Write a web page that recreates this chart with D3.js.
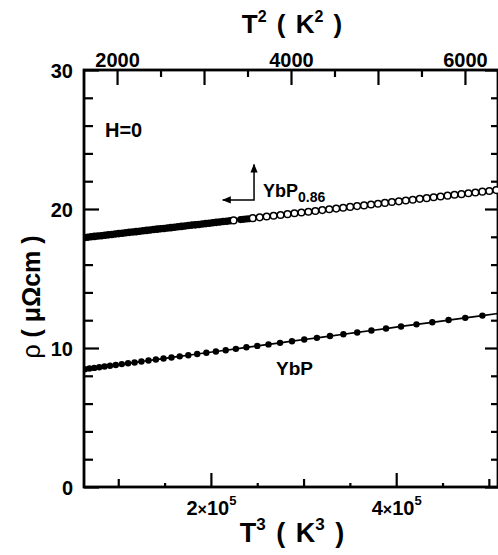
<!DOCTYPE html>
<html><head><meta charset="utf-8">
<script src="https://cdn.jsdelivr.net/npm/d3@7"></script>
<style>
body{margin:0;background:#fff}
svg{display:block}
text{font-family:"Liberation Sans",Arial,Helvetica,sans-serif;font-weight:bold;fill:#000}
</style>
</head><body>
<svg id="c" width="498" height="555"></svg>
<script>
// ---- data ----
// YbP : rho vs T (plotted against T^3, bottom axis)
const ybpT = [40,41,42,43,44,45,46,47,48,49,50,51,52,53,54,55,56,57,58,59,60,61,62,63,64,65,66,67,68,69,70,71,72,73,74,75,76,77,78,79,80];
const ybpRho = [8.48,8.52,8.57,8.62,8.67,8.72,8.78,8.84,8.90,8.96,9.03,9.10,9.17,9.24,9.32,9.40,9.48,9.57,9.66,9.75,9.84,9.94,10.05,10.15,10.26,10.37,10.49,10.61,10.73,10.86,10.99,11.12,11.26,11.40,11.55,11.70,11.85,12.01,12.17,12.33,12.50];

// YbP0.86 : rho vs T^2 (top axis)
const denseT2 = [1620,1660,1700,1740,1780,1820,1860,1900,1940,1980,2020,2060,2100,2140,2180,2220,2260,2300,2340,2380,2420,2460,2500,2540,2580,2620,2660,2700,2740,2780,2820,2860,2900,2940,2980,3020,3060,3100,3140,3180,3220,3260,3300];
const denseRho = [17.94,17.97,18.00,18.03,18.06,18.08,18.11,18.14,18.17,18.20,18.23,18.26,18.29,18.32,18.34,18.37,18.40,18.43,18.46,18.49,18.52,18.55,18.58,18.60,18.63,18.66,18.69,18.72,18.75,18.78,18.81,18.84,18.86,18.89,18.92,18.95,18.98,19.01,19.04,19.07,19.10,19.12,19.15];
const singleT2 = [3340];
const singleRho = [19.18];
const blackT2 = [3420,3450,3480,3510];
const blackRho = [19.24,19.26,19.28,19.30];
const openT2 = [3560,3640,3720,3800,3880,3960,4040,4120,4200,4280,4360,4440,4520,4600,4680,4760,4840,4920,5000,5080,5160,5240,5320,5400,5480,5560,5640,5720,5800,5880,5960,6040,6120,6200,6280,6360];
const openRho = [19.34,19.40,19.46,19.51,19.57,19.63,19.69,19.75,19.80,19.86,19.92,19.98,20.03,20.09,20.15,20.21,20.26,20.32,20.38,20.44,20.50,20.55,20.61,20.67,20.73,20.78,20.84,20.90,20.96,21.02,21.07,21.13,21.19,21.25,21.30,21.36];

// ticks
const yMajor = [0,10,20,30];
const yMinor = [2,4,6,8,12,14,16,18,22,24,26,28];
const topMajor = [2000,3000,4000,5000,6000];
const topMinor = [2500,3500,4500,5500];
const topLabels = ["2000","","4000","","6000"];
const botLabeled = [200000,400000];
const botLabelMant = ["2","4"];
const botMid = [100000,300000,500000];
const botMinor = [150000,250000,350000,450000];

// ---- layout ----
const L=84, R=498, T=70, B=487;
const svg = d3.select("#c");
const xB = d3.scaleLinear().domain([63030,509880]).range([L,R]);
const xT = d3.scaleLinear().domain([1620,6380]).range([L,R]);
const y = d3.scaleLinear().domain([0,30]).range([B,T]);

svg.append("defs").append("clipPath").attr("id","pc")
  .append("rect").attr("x",L).attr("y",T).attr("width",R-L).attr("height",B-T);

function styleAxis(g){
  g.select(".domain").remove();
  g.selectAll(".tick line").attr("stroke","#000").attr("stroke-width",2.2);
}
// left
svg.append("g").attr("transform",`translate(${L},0)`)
  .call(d3.axisLeft(y).tickValues(yMinor).tickSize(-9).tickFormat("")).call(styleAxis);
const gl = svg.append("g").attr("transform",`translate(${L},0)`)
  .call(d3.axisLeft(y).tickValues(yMajor).tickSize(-15).tickPadding(11).tickFormat(d3.format("d"))).call(styleAxis);
gl.selectAll(".tick text").attr("font-size",20).attr("dy","0.36em");
// right
svg.append("g").attr("transform",`translate(${R},0)`)
  .call(d3.axisRight(y).tickValues(yMinor).tickSize(-7).tickFormat("")).call(styleAxis);
svg.append("g").attr("transform",`translate(${R},0)`)
  .call(d3.axisRight(y).tickValues(yMajor).tickSize(-13).tickFormat("")).call(styleAxis);
// top
svg.append("g").attr("transform",`translate(0,${T})`)
  .call(d3.axisTop(xT).tickValues(topMinor).tickSize(-7).tickFormat("")).call(styleAxis);
const gt = svg.append("g").attr("transform",`translate(0,${T})`)
  .call(d3.axisTop(xT).tickValues(topMajor).tickSize(-15).tickPadding(3).tickFormat((d,i)=>topLabels[i])).call(styleAxis);
gt.selectAll(".tick text").attr("font-size",20);
// bottom
svg.append("g").attr("transform",`translate(0,${B})`)
  .call(d3.axisBottom(xB).tickValues(botMinor).tickSize(-4).tickFormat("")).call(styleAxis);
svg.append("g").attr("transform",`translate(0,${B})`)
  .call(d3.axisBottom(xB).tickValues(botMid).tickSize(-8).tickFormat("")).call(styleAxis);
const gb = svg.append("g").attr("transform",`translate(0,${B})`)
  .call(d3.axisBottom(xB).tickValues(botLabeled).tickSize(-14).tickFormat("")).call(styleAxis);
gb.selectAll(".tick text").each(function(d,i){
  const t = d3.select(this).attr("y",28).attr("dy",null).attr("font-size",20).attr("text-anchor","middle");
  t.append("tspan").text(botLabelMant[i]);
  t.append("tspan").attr("font-size",16).text("×");
  t.append("tspan").text("10");
  t.append("tspan").attr("font-size",13).attr("dy",-10).text("5");
});

// frame
svg.append("rect").attr("x",L).attr("y",T).attr("width",R-L).attr("height",B-T)
  .attr("fill","none").attr("stroke","#000").attr("stroke-width",2.8);

// ---- data marks ----
const plot = svg.append("g").attr("clip-path","url(#pc)");
const ybp = ybpT.map((t,i)=>({x:t*t*t, v:ybpRho[i]}));
plot.append("path").datum(ybp)
  .attr("d", d3.line().x(d=>xB(d.x)).y(d=>y(d.v)))
  .attr("fill","none").attr("stroke","#000").attr("stroke-width",1.7);
plot.selectAll("circle.ybp").data(ybp).join("circle").attr("class","ybp")
  .attr("cx",d=>xB(d.x)).attr("cy",d=>y(d.v)).attr("r",3.2).attr("fill","#000");

const all086 = [];
denseT2.forEach((t,i)=>all086.push({x:t,v:denseRho[i]}));
singleT2.forEach((t,i)=>all086.push({x:t,v:singleRho[i]}));
blackT2.forEach((t,i)=>all086.push({x:t,v:blackRho[i]}));
openT2.forEach((t,i)=>all086.push({x:t,v:openRho[i]}));
plot.append("path").datum(all086)
  .attr("d", d3.line().x(d=>xT(d.x)).y(d=>y(d.v)))
  .attr("fill","none").attr("stroke","#000").attr("stroke-width",1.4);
plot.selectAll("circle.dense").data(denseT2.map((t,i)=>({x:t,v:denseRho[i]}))).join("circle").attr("class","dense")
  .attr("cx",d=>xT(d.x)).attr("cy",d=>y(d.v)).attr("r",3.8).attr("fill","#000");
plot.selectAll("circle.black").data(blackT2.map((t,i)=>({x:t,v:blackRho[i]}))).join("circle").attr("class","black")
  .attr("cx",d=>xT(d.x)).attr("cy",d=>y(d.v)).attr("r",3.6).attr("fill","#000");
const openPts = singleT2.map((t,i)=>({x:t,v:singleRho[i]})).concat(openT2.map((t,i)=>({x:t,v:openRho[i]})));
plot.selectAll("circle.open").data(openPts).join("circle").attr("class","open")
  .attr("cx",d=>xT(d.x)).attr("cy",d=>y(d.v)).attr("r",3.3).attr("fill","#fff")
  .attr("stroke","#000").attr("stroke-width",1.5);

// ---- annotations ----
const defs = svg.select("defs");
defs.append("marker").attr("id","ah").attr("viewBox","0 0 10 10").attr("refX",9).attr("refY",5)
  .attr("markerWidth",6).attr("markerHeight",6).attr("orient","auto-start-reverse")
  .append("path").attr("d","M0,1 L10,5 L0,9 Z").attr("fill","#000");
const cx = xT(3575), cy = y(20.65);
svg.append("path")
  .attr("d",`M${xT(3215)},${cy} L${cx},${cy} L${cx},${y(23.2)}`)
  .attr("fill","none").attr("stroke","#000").attr("stroke-width",1.5)
  .attr("marker-start","url(#ah)").attr("marker-end","url(#ah)");

const lab1 = svg.append("text").attr("x",263).attr("y",197).attr("font-size",18);
lab1.append("tspan").text("YbP");
lab1.append("tspan").attr("font-size",14).attr("dy",5).text("0.86");
svg.append("text").attr("x",276).attr("y",375).attr("font-size",19).text("YbP");
svg.append("text").attr("x",105).attr("y",137).attr("font-size",20).text("H=0");

// axis titles
const tt = svg.append("text").attr("x",292).attr("y",33).attr("text-anchor","middle").attr("font-size",26).attr("word-spacing",3);
tt.append("tspan").text("T");
tt.append("tspan").attr("font-size",16).attr("dy",-11).text("2");
tt.append("tspan").attr("dy",11).text(" ( K");
tt.append("tspan").attr("font-size",16).attr("dy",-11).text("2");
tt.append("tspan").attr("dy",11).text(" )");
const bt = svg.append("text").attr("x",292).attr("y",542).attr("text-anchor","middle").attr("font-size",27).attr("word-spacing",3);
bt.append("tspan").text("T");
bt.append("tspan").attr("font-size",17).attr("dy",-12).text("3");
bt.append("tspan").attr("dy",12).text(" ( K");
bt.append("tspan").attr("font-size",17).attr("dy",-12).text("3");
bt.append("tspan").attr("dy",12).text(" )");
const yl = svg.append("text").attr("transform","translate(40,297) rotate(-90)").attr("text-anchor","middle").attr("font-size",25);
yl.append("tspan").attr("font-weight","normal").text("ρ");
yl.append("tspan").text(" (  μΩcm )");
</script>
</body></html>
